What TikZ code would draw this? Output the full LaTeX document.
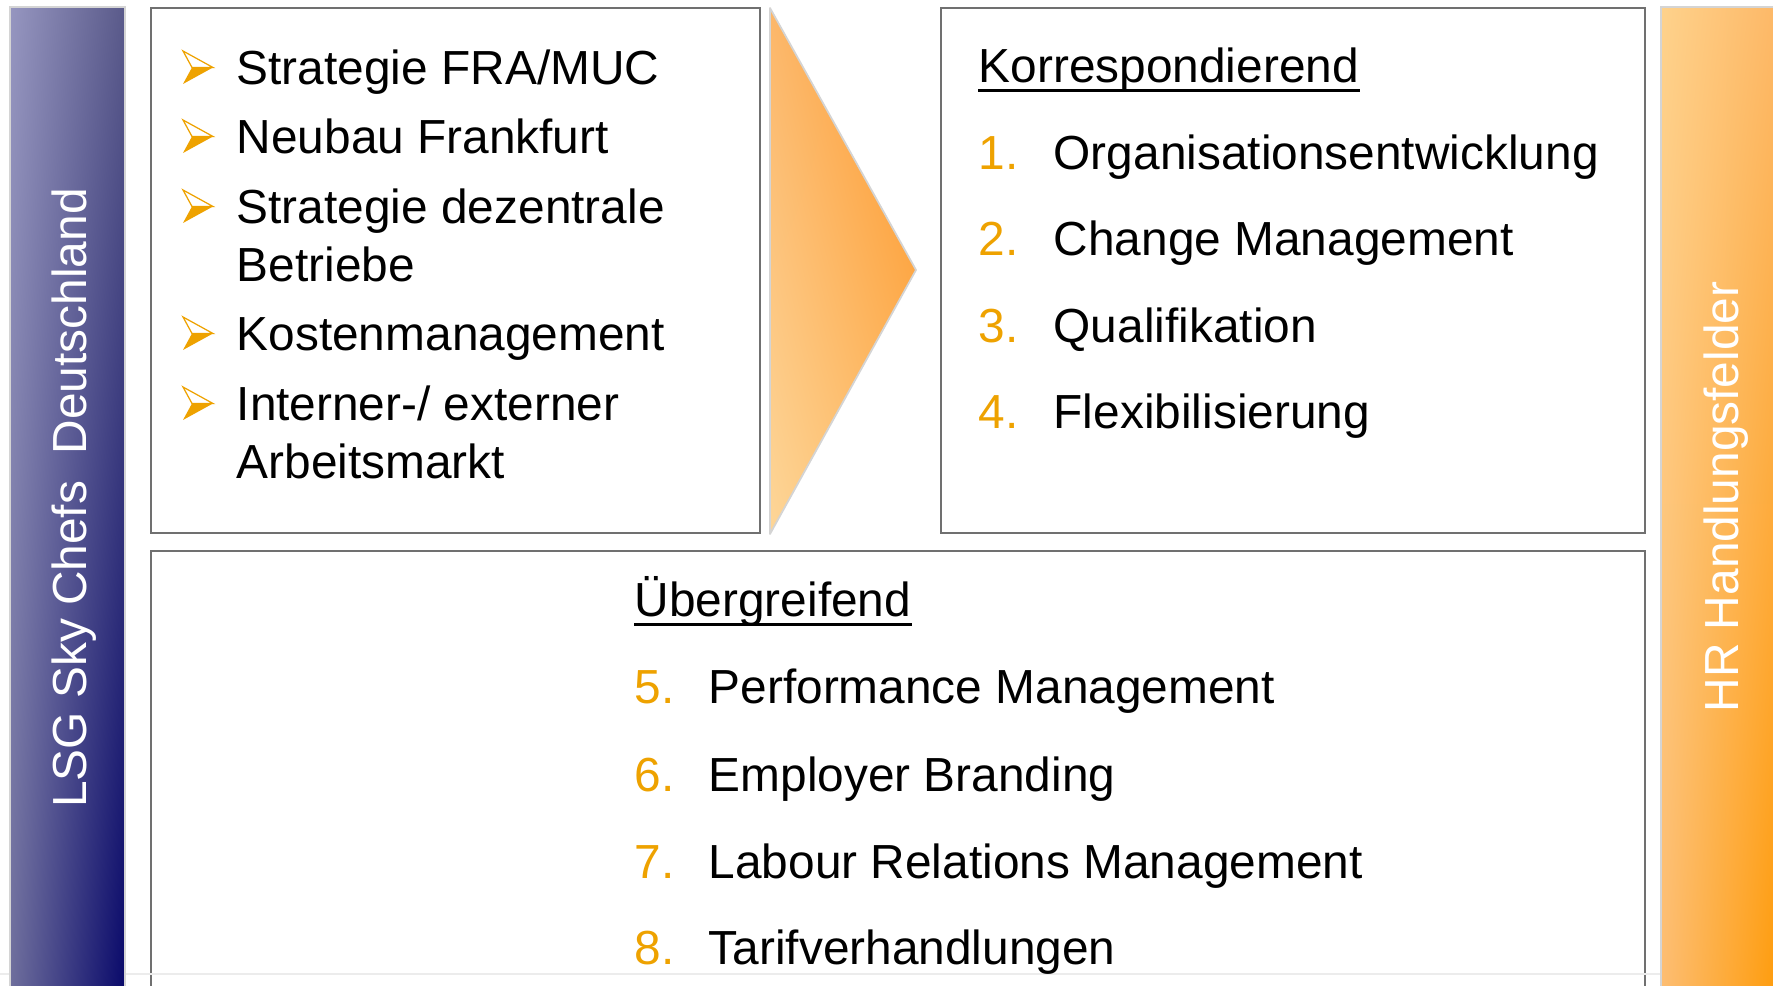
\documentclass[tikz,border=0pt]{standalone}
\usepackage{fontspec}
\setmainfont{Liberation Sans}
\usetikzlibrary{shadings}
\definecolor{hlorange}{RGB}{238,162,0}
\definecolor{boxgray}{RGB}{112,112,112}
\definecolor{edgegray}{RGB}{212,212,212}
\definecolor{faintgray}{RGB}{236,236,236}
% wedge shading corners
\definecolor{wedgeUL}{RGB}{252,183,106}
\definecolor{wedgeUR}{RGB}{253,150,40}
\definecolor{wedgeLL}{RGB}{253,214,152}
\definecolor{wedgeLR}{RGB}{253,184,98}
% left bar shading corners
\definecolor{navyUL}{RGB}{150,150,192}
\definecolor{navyUR}{RGB}{90,90,138}
\definecolor{navyLL}{RGB}{110,110,156}
\definecolor{navyLR}{RGB}{8,8,106}
% right bar shading corners
\definecolor{ambUL}{RGB}{254,210,140}
\definecolor{ambUR}{RGB}{253,181,99}
\definecolor{ambLL}{RGB}{253,189,114}
\definecolor{ambLR}{RGB}{254,152,0}
\begin{document}
\begin{tikzpicture}[x=0.01cm,y=-0.01cm,
  txt/.style={inner sep=0pt, anchor=base west, font=\fontsize{13.6}{16}\selectfont},
  num/.style={txt, text=hlorange},
  panel/.style={draw=boxgray, line width=0.7pt, fill=white},
  bartext/.style={inner sep=0pt, anchor=base, rotate=90, text=white, font=\fontsize{13.6}{16}\selectfont},
  uline/.style={line width=1pt},
  arrowbullet/.pic={
    \fill[hlorange] (9,0) -- (30,0) -- (0,16.5) -- cycle;
    \draw[hlorange, line width=0.35pt, line join=miter, fill=white] (0,-16.5) -- (30,0) -- (9,0) -- cycle;
  }]
\useasboundingbox (0,0) rectangle (1773,986);
\clip (0,0) rectangle (1773,986);

% panels
\draw[panel] (151,8) rectangle (760,533);
\draw[panel] (941,8) rectangle (1645,533);
\draw[panel] (151,551) rectangle (1645,1010);

% arrow wedge between the upper panels
\shade[upper left=wedgeUL, upper right=wedgeUR, lower left=wedgeLL, lower right=wedgeLR]
  (770,8) -- (916,270) -- (770,534) -- cycle;
\draw[edgegray, line width=0.5pt, line join=round] (770,8) -- (916,270) -- (770,534) -- cycle;

% faint rule near the bottom edge
\draw[faintgray, line width=0.4pt] (0,974) -- (1773,974);

% side bars
\shade[upper left=navyUL, upper right=navyUR, lower left=navyLL, lower right=navyLR]
  (10,7) rectangle (125,1000);
\draw[edgegray, line width=0.5pt] (10,1000) -- (10,7) -- (125,7) -- (125,1000);
\shade[upper left=ambUL, upper right=ambUR, lower left=ambLL, lower right=ambLR]
  (1661,7) rectangle (1790,1000);
\draw[edgegray, line width=0.5pt] (1661,1000) -- (1661,7) -- (1790,7);

\node[bartext] (lsg) at (87,498) {LSG Sky Chefs\ \ Deutschland};
\node[bartext] (hr) at (1738,497) {HR Handlungsfelder};

% left panel: bullet list
\foreach \yb in {85,154,224,351,421}
  \pic at (183,\yb-17.5) {arrowbullet};
\node[txt] (s1) at (236,85) {Strategie FRA/MUC};
\node[txt] (s2) at (236,154) {Neubau Frankfurt};
\node[txt] (s3a) at (236,224) {Strategie dezentrale};
\node[txt] (s3b) at (236,282) {Betriebe};
\node[txt] (s4) at (236,351) {Kostenmanagement};
\node[txt] (s5a) at (236,421) {Interner-/ externer};
\node[txt] (s5b) at (236,479) {Arbeitsmarkt};

% right panel
\node[txt] (korr) at (978,83) {Korrespondierend};
\draw[uline] ([yshift=-2.2pt]korr.base west) -- ([yshift=-2.2pt]korr.base east);
\node[num] (n1) at (978,170) {1.};
\node[txt] (t1) at (1053,170) {Organisationsentwicklung};
\node[num] (n2) at (978,256) {2.};
\node[txt] (t2) at (1053,256) {Change Management};
\node[num] (n3) at (978,343) {3.};
\node[txt] (t3) at (1053,343) {Qualifikation};
\node[num] (n4) at (978,429) {4.};
\node[txt] (t4) at (1053,429) {Flexibilisierung};

% bottom panel
\node[txt] (ueb) at (634,617) {Übergreifend};
\draw[uline] ([yshift=-2.2pt]ueb.base west) -- ([yshift=-2.2pt]ueb.base east);
\node[num] (n5) at (634,704) {5.};
\node[txt] (t5) at (708,704) {Performance Management};
\node[num] (n6) at (634,791) {6.};
\node[txt] (t6) at (708,791) {Employer Branding};
\node[num] (n7) at (634,878) {7.};
\node[txt] (t7) at (708,878) {Labour Relations Management};
\node[num] (n8) at (634,964) {8.};
\node[txt] (t8) at (708,964) {Tarifverhandlungen};
\end{tikzpicture}
\end{document}
